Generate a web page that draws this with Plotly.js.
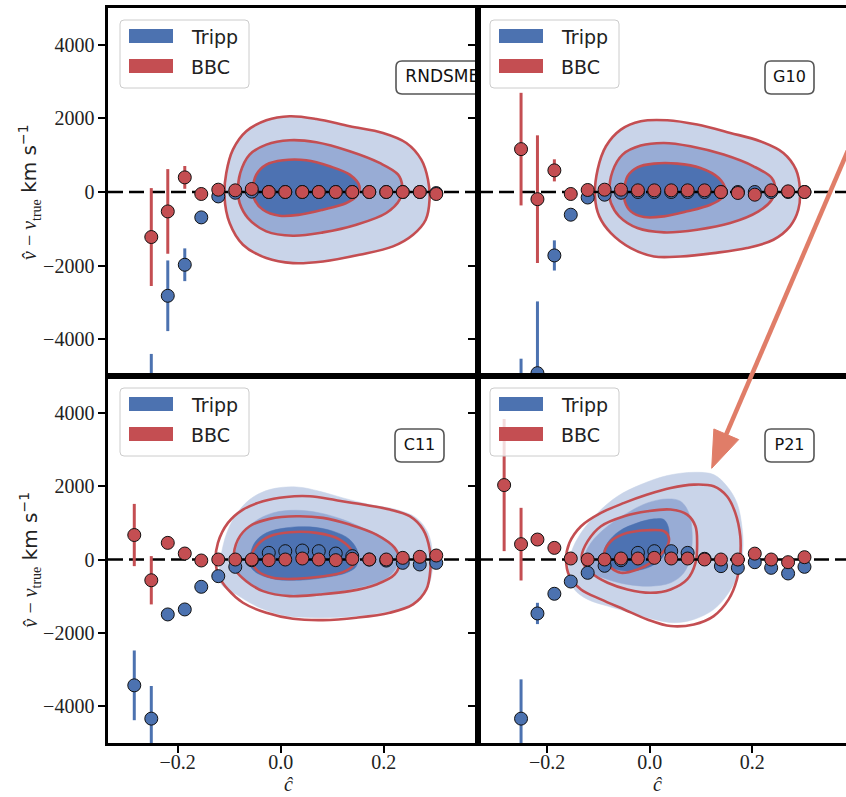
<!DOCTYPE html>
<html><head><meta charset="utf-8">
<script src="https://cdn.plot.ly/plotly-3.0.1.min.js"></script>
<style>html,body{margin:0;padding:0;background:#fff;}#chart{width:846px;height:797px;}</style>
</head><body><div id="chart"></div>
<script>
// ---------------- DATA ----------------
const C_HAT = [-0.284, -0.251, -0.219, -0.186, -0.154, -0.121, -0.088, -0.056, -0.023, 0.009, 0.042, 0.074, 0.107, 0.139, 0.172, 0.205, 0.237, 0.270, 0.302];
const Y_TICKS = [-4000, -2000, 0, 2000, 4000];
const X_TICKS = [-0.2, 0.0, 0.2];
const PANEL_LABELS = ['RNDSMEAR', 'G10', 'C11', 'P21'];
const LEGEND_NAMES = ['Tripp', 'BBC'];
const X_TITLE = '<i>ĉ</i>';
const Y_TITLE = "<span style=\"font-family:'Liberation Serif'\"><i>v̂</i> − <i>v</i><sub>true</sub></span>" +
                "<span style=\"font-family:'DejaVu Sans'\"> km s<sup>−1</sup></span>";

// RNDSMEAR
const RND_TRIPP     = [null, -6400, -2820, -1977, -690, -120, -20, 10, 0, 0, 0, 0, 0, 0, 0, 0, 0, 0, -30];
const RND_TRIPP_ERR = [null, 2000, 960, 445, 150, 80, 60, 40, 30, 30, 30, 30, 30, 30, 30, 30, 40, 50, 60];
const RND_BBC       = [null, -1224, -528, 397, -54, 63, 45, 82, 0, 0, 0, 0, 0, 0, 0, 0, 0, 0, -54];
const RND_BBC_ERR   = [null, 1330, 1150, 310, 80, 60, 50, 40, 30, 30, 30, 30, 30, 30, 30, 30, 40, 50, 60];
// G10
const G10_TRIPP     = [null, -6600, -4923, -1724, -617, -150, -73, -20, 0, 0, 0, 0, 0, 0, 0, 0, 0, 0, 0];
const G10_TRIPP_ERR = [null, 2070, 1950, 410, 150, 80, 60, 40, 30, 30, 30, 30, 30, 30, 30, 30, 40, 50, 60];
const G10_BBC       = [null, 1165, -195, 588, -54, 55, 63, 63, 45, 45, 45, 45, 45, 0, -27, -73, 45, 18, 0];
const G10_BBC_ERR   = [null, 1530, 1735, 300, 80, 60, 50, 40, 30, 30, 30, 30, 30, 30, 30, 30, 40, 50, 60];
// C11
const C11_TRIPP     = [-3429, -4336, -1497, -1361, -744, -454, -200, -20, 181, 227, 245, 227, 163, 91, 0, -30, -91, -136, -91];
const C11_TRIPP_ERR = [950, 890, 120, 100, 80, 60, 50, 40, 30, 30, 30, 30, 30, 30, 30, 30, 40, 50, 60];
const C11_BBC       = [667, -566, 453, 163, -27, 0, 0, 0, -18, 0, 27, 0, -18, 18, 0, 0, 45, 73, 109];
const C11_BBC_ERR   = [848, 658, 100, 80, 60, 50, 40, 30, 30, 30, 30, 30, 30, 30, 30, 30, 40, 50, 60];
// P21
const P21_TRIPP     = [null, -4336, -1470, -934, -600, -363, -172, -20, 181, 227, 227, 181, 20, -181, -227, -73, -227, -381, -200];
const P21_TRIPP_ERR = [null, 1070, 290, 100, 80, 60, 50, 40, 30, 30, 30, 30, 30, 30, 30, 30, 40, 50, 60];
const P21_BBC       = [2028, 418, 544, 317, 27, 0, 0, 27, 27, 45, 27, 27, 0, 0, 0, 160, 0, -73, 63];
const P21_BBC_ERR   = [1800, 990, 100, 80, 60, 50, 40, 30, 30, 30, 30, 30, 30, 30, 30, 30, 40, 50, 60];

// Density contours [c_hat, dv] (outer / middle / inner levels)
const RND_OUTER = [[-0.109,-118],[-0.1055,517],[-0.0926,1152],[-0.0667,1651],[-0.0278,1950],[0.0175,2059],[0.0693,1986],[0.134,1787],[0.1987,1605],[0.244,1333],[0.273,880],[0.286,336],[0.289,-209],[0.2816,-753],[0.257,-1161],[0.218,-1478],[0.153,-1705],[0.0822,-1887],[0.0239,-1932],[-0.0278,-1796],[-0.0731,-1433],[-0.099,-844]];
const RND_MID = [[-0.0828,18],[-0.0783,517],[-0.0602,1016],[-0.0278,1288],[0.0175,1406],[0.0693,1351],[0.134,1107],[0.192,789],[0.228,472],[0.236,154],[0.231,-209],[0.205,-571],[0.147,-889],[0.0822,-1097],[0.0239,-1188],[-0.0278,-1070],[-0.0634,-707],[-0.0796,-299]];
const RND_INNER = [[-0.0537,63],[-0.0472,472],[-0.0278,744],[0.0045,862],[0.0498,862],[0.0951,698],[0.134,472],[0.153,154],[0.147,-118],[0.1275,-299],[0.0822,-481],[0.0369,-617],[-0.0019,-644],[-0.0343,-481],[-0.0505,-209]];

const G10_OUTER = [[-0.1068,-118],[-0.1016,608],[-0.0854,1243],[-0.0563,1696],[-0.0175,1923],[0.0343,1950],[0.0926,1832],[0.1573,1605],[0.2155,1379],[0.2608,1061],[0.2854,608],[0.2932,63],[0.290,-481],[0.2738,-934],[0.2414,-1297],[0.1897,-1524],[0.1249,-1660],[0.0602,-1751],[0.0084,-1751],[-0.0369,-1524],[-0.0757,-1116],[-0.0984,-662]];
const G10_MID = [[-0.079,-27],[-0.0725,562],[-0.053,1016],[-0.0175,1261],[0.0278,1333],[0.0796,1243],[0.1443,1016],[0.2026,698],[0.2382,381],[0.2447,109],[0.2382,-209],[0.2123,-526],[0.1573,-844],[0.0926,-1025],[0.0278,-1097],[-0.0239,-980],[-0.0596,-662],[-0.0757,-299]];
const G10_INNER = [[-0.0498,18],[-0.0434,426],[-0.0239,671],[0.0084,771],[0.0537,771],[0.099,653],[0.1346,381],[0.1476,63],[0.1411,-163],[0.1184,-345],[0.0731,-526],[0.0278,-662],[-0.011,-680],[-0.0369,-526],[-0.0485,-254]];

const C11_T_OUTER = [[-0.1184,-544],[-0.112,363],[-0.0926,1088],[-0.0602,1633],[-0.0214,1905],[0.0305,1977],[0.0757,1859],[0.121,1678],[0.1728,1497],[0.2246,1361],[0.2634,1134],[0.286,726],[0.2945,181],[0.2926,-454],[0.2796,-907],[0.2505,-1270],[0.1987,-1451],[0.134,-1560],[0.0693,-1587],[0.011,-1542],[-0.0408,-1315],[-0.086,-952],[-0.112,-726]];
const C11_T_MID = [[-0.0893,0],[-0.0796,544],[-0.0537,998],[-0.0149,1270],[0.0305,1342],[0.0757,1270],[0.121,1088],[0.1663,816],[0.2052,544],[0.2246,227],[0.2278,-91],[0.2149,-408],[0.1858,-635],[0.134,-816],[0.0822,-952],[0.0305,-998],[-0.0149,-952],[-0.0537,-726],[-0.0796,-408]];
const C11_T_INNER = [[-0.0602,0],[-0.0505,454],[-0.0278,726],[0.011,862],[0.0563,889],[0.1016,771],[0.134,544],[0.1502,181],[0.1469,-181],[0.1275,-363],[0.0822,-499],[0.0369,-562],[-0.0084,-544],[-0.0408,-408],[-0.057,-227]];
const C11_B_OUTER = [[-0.1262,-91],[-0.1217,454],[-0.1023,998],[-0.0731,1361],[-0.0343,1587],[0.011,1705],[0.0563,1723],[0.108,1614],[0.1599,1497],[0.2117,1361],[0.2505,1179],[0.2764,816],[0.2893,272],[0.2906,-272],[0.2828,-816],[0.257,-1224],[0.2117,-1451],[0.1469,-1587],[0.0822,-1651],[0.0239,-1614],[-0.0278,-1451],[-0.0731,-1179],[-0.1023,-816],[-0.1197,-454]];
const C11_B_MID = [[-0.0913,0],[-0.0828,544],[-0.0602,907],[-0.0214,1107],[0.0305,1179],[0.0822,1134],[0.134,952],[0.1858,680],[0.2214,317],[0.2311,-45],[0.2214,-408],[0.1858,-680],[0.134,-862],[0.0757,-952],[0.0175,-998],[-0.0343,-862],[-0.0667,-590],[-0.086,-317]];
const C11_B_INNER = [[-0.057,0],[-0.0472,363],[-0.0214,635],[0.0175,744],[0.0693,726],[0.1146,544],[0.1405,181],[0.1417,-136],[0.121,-345],[0.0757,-472],[0.0305,-526],[-0.0149,-499],[-0.044,-317]];

const P21_T_OUTER = [[-0.1586,-363],[-0.1534,181],[-0.134,726],[-0.1016,1270],[-0.0628,1723],[-0.0175,2041],[0.0343,2286],[0.0861,2376],[0.1249,2313],[0.1508,1995],[0.1702,1542],[0.1799,907],[0.1819,272],[0.1735,-363],[0.154,-907],[0.1249,-1361],[0.0861,-1633],[0.0472,-1723],[0.0084,-1633],[-0.0369,-1451],[-0.0822,-1270],[-0.121,-1088],[-0.1469,-816]];
const P21_T_MID = [[-0.1275,0],[-0.1146,454],[-0.0822,907],[-0.0434,1270],[-0.0045,1542],[0.0343,1651],[0.0602,1587],[0.0764,1270],[0.0828,726],[0.0796,91],[0.0667,-363],[0.0408,-635],[0.0019,-726],[-0.0434,-680],[-0.0822,-544],[-0.1113,-363]];
const P21_T_INNER = [[-0.0919,91],[-0.0822,454],[-0.0596,771],[-0.0239,998],[0.0084,1107],[0.0278,1088],[0.0375,816],[0.0343,363],[0.0214,0],[-0.0045,-227],[-0.0434,-317],[-0.0757,-227],[-0.0887,-91]];
const P21_B_OUTER = [[-0.1631,0],[-0.1566,454],[-0.134,907],[-0.0951,1270],[-0.0498,1542],[-0.0045,1769],[0.0408,1950],[0.0861,2041],[0.1249,1995],[0.1508,1723],[0.167,1270],[0.1767,635],[0.1767,91],[0.1702,-544],[0.154,-1088],[0.1249,-1542],[0.0861,-1769],[0.0408,-1814],[-0.0045,-1633],[-0.0498,-1361],[-0.0951,-1088],[-0.134,-816],[-0.1566,-454]];
const P21_B_MID = [[-0.1327,91],[-0.121,499],[-0.0951,907],[-0.0498,1179],[-0.0045,1315],[0.0408,1361],[0.0731,1224],[0.0893,907],[0.0925,454],[0.0893,-91],[0.0731,-544],[0.0408,-816],[0.0019,-907],[-0.0434,-816],[-0.0822,-635],[-0.1146,-363],[-0.1288,-136]];
const P21_B_INNER = [[-0.0887,181],[-0.0757,499],[-0.0434,726],[-0.0045,798],[0.0278,771],[0.0375,590],[0.0343,363],[0.0214,136],[0.0019,-91],[-0.0239,-272],[-0.0563,-363],[-0.0757,-227],[-0.0854,-45]];

// ---------------- STYLE / GEOMETRY ----------------
const FIG_W = 846, FIG_H = 797;
const MARGIN = {l: 108, r: 0, t: 8, b: 54};
const X_RANGE = [-0.335, 0.383], Y_RANGE = [-5000, 5000];
const TRIPP_BLUE = '#4C72B0', BBC_RED = '#C44E52';
const FILL_COLORS = ['#C9D4E9', '#98ACD5', '#4D72B2'];
const ARROW_COLOR = '#E07D68';
const SERIF = 'Liberation Serif', SANS = 'DejaVu Sans';

const plotW = FIG_W - MARGIN.l - MARGIN.r, plotH = FIG_H - MARGIN.t - MARGIN.b;
const pxX = px => (px - MARGIN.l) / plotW;
const pxY = py => (FIG_H - MARGIN.b - py) / plotH;

const PANELS = [
  {xa: 'x',  ya: 'y',  L: 108, R: 478, T: 8,   B: 376, bottom: false, left: true,
   tripp: RND_TRIPP, trippErr: RND_TRIPP_ERR, bbc: RND_BBC, bbcErr: RND_BBC_ERR,
   fills: [RND_OUTER, RND_MID, RND_INNER], lines: [RND_OUTER, RND_MID, RND_INNER]},
  {xa: 'x2', ya: 'y2', L: 478, R: 846, T: 8,   B: 376, bottom: false, left: false,
   tripp: G10_TRIPP, trippErr: G10_TRIPP_ERR, bbc: G10_BBC, bbcErr: G10_BBC_ERR,
   fills: [G10_OUTER, G10_MID, G10_INNER], lines: [G10_OUTER, G10_MID, G10_INNER]},
  {xa: 'x3', ya: 'y3', L: 108, R: 478, T: 376, B: 743, bottom: true, left: true,
   tripp: C11_TRIPP, trippErr: C11_TRIPP_ERR, bbc: C11_BBC, bbcErr: C11_BBC_ERR,
   fills: [C11_T_OUTER, C11_T_MID, C11_T_INNER], lines: [C11_B_OUTER, C11_B_MID, C11_B_INNER]},
  {xa: 'x4', ya: 'y4', L: 478, R: 846, T: 376, B: 743, bottom: true, left: false,
   tripp: P21_TRIPP, trippErr: P21_TRIPP_ERR, bbc: P21_BBC, bbcErr: P21_BBC_ERR,
   fills: [P21_T_OUTER, P21_T_MID, P21_T_INNER], lines: [P21_B_OUTER, P21_B_MID, P21_B_INNER]},
];

function closed(pts) {
  return {x: pts.map(p => p[0]).concat([pts[0][0]]), y: pts.map(p => p[1]).concat([pts[0][1]])};
}
function toData(p) {
  return (px, py) => [X_RANGE[0] + (px - p.L) / (p.R - p.L) * (X_RANGE[1] - X_RANGE[0]),
                      Y_RANGE[1] - (py - p.T) / (p.B - p.T) * (Y_RANGE[1] - Y_RANGE[0])];
}
const toPaper = (px, py) => [pxX(px), pxY(py)];
function roundRect(conv, x0, y0, x1, y1, r) {
  const P = (a, b) => conv(a, b).join(',');
  return 'M' + P(x0 + r, y0) + 'L' + P(x1 - r, y0) + 'Q' + P(x1, y0) + ' ' + P(x1, y0 + r) +
         'L' + P(x1, y1 - r) + 'Q' + P(x1, y1) + ' ' + P(x1 - r, y1) +
         'L' + P(x0 + r, y1) + 'Q' + P(x0, y1) + ' ' + P(x0, y1 - r) +
         'L' + P(x0, y0 + r) + 'Q' + P(x0, y0) + ' ' + P(x0 + r, y0) + 'Z';
}

const traces = [], shapes = [], annotations = [];
const layout = {
  width: FIG_W, height: FIG_H, margin: MARGIN, showlegend: false,
  paper_bgcolor: '#fff', plot_bgcolor: '#fff',
  font: {family: SANS, color: '#222'},
};

PANELS.forEach((p, i) => {
  const ax = {xaxis: p.xa, yaxis: p.ya};
  p.fills.forEach((pts, k) => {
    const c = closed(pts);
    traces.push(Object.assign({type: 'scatter', mode: 'lines', x: c.x, y: c.y, fill: 'toself',
      fillcolor: FILL_COLORS[k], line: {width: 0.5, color: FILL_COLORS[k], shape: 'spline', smoothing: 1},
      hoverinfo: 'skip'}, ax));
  });
  p.lines.forEach(pts => {
    const c = closed(pts);
    traces.push(Object.assign({type: 'scatter', mode: 'lines', x: c.x, y: c.y,
      line: {width: 2.6, color: BBC_RED, shape: 'spline', smoothing: 1}, hoverinfo: 'skip'}, ax));
  });
  traces.push(Object.assign({type: 'scatter', mode: 'lines', x: X_RANGE, y: [0, 0],
    line: {color: '#000', width: 2.6, dash: '15px,6px'}, hoverinfo: 'skip'}, ax));
  [[p.tripp, p.trippErr, TRIPP_BLUE, LEGEND_NAMES[0]], [p.bbc, p.bbcErr, BBC_RED, LEGEND_NAMES[1]]].forEach(s => {
    traces.push(Object.assign({type: 'scatter', mode: 'markers', name: s[3], x: C_HAT, y: s[0],
      marker: {size: 13, color: s[2], line: {color: '#111', width: 1}},
      error_y: {type: 'data', array: s[1], visible: true, color: s[2], thickness: 3, width: 0},
      cliponaxis: true, hoverinfo: 'skip'}, ax));
  });
  // panel label (clipped to its panel)
  const conv = toData(p);
  const isLong = PANEL_LABELS[i].length > 4;
  const bx0 = p.L + (isLong ? 288 : 287), bx1 = isLong ? p.L + 405 : p.L + 336;
  const by0 = p.T + 53, by1 = p.T + 86;
  shapes.push({type: 'path', xref: p.xa, yref: p.ya, layer: 'below', path: roundRect(conv, bx0, by0, bx1, by1, 6),
    fillcolor: '#fff', line: {color: '#555', width: 1.6}});
  const tc = conv(isLong ? p.L + 346 : (bx0 + bx1) / 2, (by0 + by1) / 2);
  traces.push(Object.assign({type: 'scatter', mode: 'text', x: [tc[0]], y: [tc[1]], text: [PANEL_LABELS[i]],
    textposition: 'middle center', textfont: {family: SANS, size: isLong ? 17 : 16, color: '#111'},
    cliponaxis: true, hoverinfo: 'skip'}, ax));

  // legend box
  shapes.push({type: 'path', xref: 'paper', yref: 'paper', layer: 'above',
    path: roundRect(toPaper, p.L + 12, p.T + 12, p.L + 141, p.T + 80, 4),
    fillcolor: 'rgba(255,255,255,0.8)', line: {color: '#cccccc', width: 1}});
  [[TRIPP_BLUE, 21, LEGEND_NAMES[0]], [BBC_RED, 51, LEGEND_NAMES[1]]].forEach(e => {
    shapes.push({type: 'rect', xref: 'paper', yref: 'paper', layer: 'above',
      x0: pxX(p.L + 21), x1: pxX(p.L + 65), y0: pxY(p.T + e[1]), y1: pxY(p.T + e[1] + 14),
      fillcolor: e[0], line: {width: 0}});
    annotations.push({xref: 'paper', yref: 'paper', x: pxX(p.L + 81), y: pxY(p.T + e[1] + 8),
      xanchor: 'left', yanchor: 'middle', text: e[2], showarrow: false,
      font: {family: SANS, size: 19, color: '#222'}});
  });

  // axis titles
  if (p.bottom) {
    annotations.push({xref: 'paper', yref: 'paper', x: pxX((p.L + p.R) / 2 - 4), y: pxY(797),
      xanchor: 'center', yanchor: 'bottom', text: X_TITLE, showarrow: false,
      font: {family: SERIF, size: 20, color: '#222'}});
  }
  if (p.left) {
    annotations.push({xref: 'paper', yref: 'paper', x: pxX(30), y: pxY((p.T + p.B) / 2),
      xanchor: 'center', yanchor: 'middle', textangle: -90, text: Y_TITLE, showarrow: false,
      font: {family: SERIF, size: 20, color: '#222'}});
  }

  const n = i === 0 ? '' : String(i + 1);
  layout['xaxis' + n] = {
    domain: [pxX(p.L), pxX(p.R)], range: X_RANGE, anchor: p.ya, fixedrange: true,
    showline: true, mirror: true, linecolor: '#000', linewidth: 2.6,
    showgrid: false, zeroline: false, automargin: false,
    ticks: p.bottom ? 'outside' : '', ticklen: 7, tickwidth: 2, tickcolor: '#000',
    showticklabels: p.bottom, tickvals: X_TICKS, tickformat: '.1f', ticklabelstandoff: -8,
    tickfont: {family: SERIF, size: 20, color: '#222'}
  };
  layout['yaxis' + n] = {
    domain: [pxY(p.B), pxY(p.T)], range: Y_RANGE, anchor: p.xa, fixedrange: true,
    showline: true, mirror: p.left, linecolor: '#000', linewidth: 2.6,
    showgrid: false, zeroline: false, automargin: false,
    ticks: 'outside', ticklen: 7, tickwidth: 2, tickcolor: '#000',
    showticklabels: p.left, tickvals: Y_TICKS,
    tickfont: {family: SERIF, size: 20, color: '#222'}
  };
});

// salmon annotation arrow from the top-right panel into P21
const ARROW_START = [852, 141], ARROW_TIP = [711.7, 468.3], HEAD_LEN = 37, HEAD_HALF = 13.5;
(function () {
  const dx = ARROW_START[0] - ARROW_TIP[0], dy = ARROW_START[1] - ARROW_TIP[1];
  const len = Math.hypot(dx, dy), ux = dx / len, uy = dy / len;
  const bx = ARROW_TIP[0] + HEAD_LEN * ux, by = ARROW_TIP[1] + HEAD_LEN * uy;
  const ex = ARROW_TIP[0] + (HEAD_LEN - 4) * ux, ey = ARROW_TIP[1] + (HEAD_LEN - 4) * uy;
  shapes.push({type: 'line', xref: 'paper', yref: 'paper', layer: 'above',
    x0: pxX(ARROW_START[0]), y0: pxY(ARROW_START[1]), x1: pxX(ex), y1: pxY(ey),
    line: {color: ARROW_COLOR, width: 4.5}});
  const c1 = toPaper(bx - HEAD_HALF * uy, by + HEAD_HALF * ux);
  const c2 = toPaper(bx + HEAD_HALF * uy, by - HEAD_HALF * ux);
  const t = toPaper(ARROW_TIP[0], ARROW_TIP[1]);
  shapes.push({type: 'path', xref: 'paper', yref: 'paper', layer: 'above',
    path: 'M' + t.join(',') + 'L' + c1.join(',') + 'L' + c2.join(',') + 'Z',
    fillcolor: ARROW_COLOR, line: {color: ARROW_COLOR, width: 1}});
})();

layout.shapes = shapes;
layout.annotations = annotations;
Plotly.newPlot('chart', traces, layout, {displayModeBar: false, staticPlot: true});
</script>
</body></html>
